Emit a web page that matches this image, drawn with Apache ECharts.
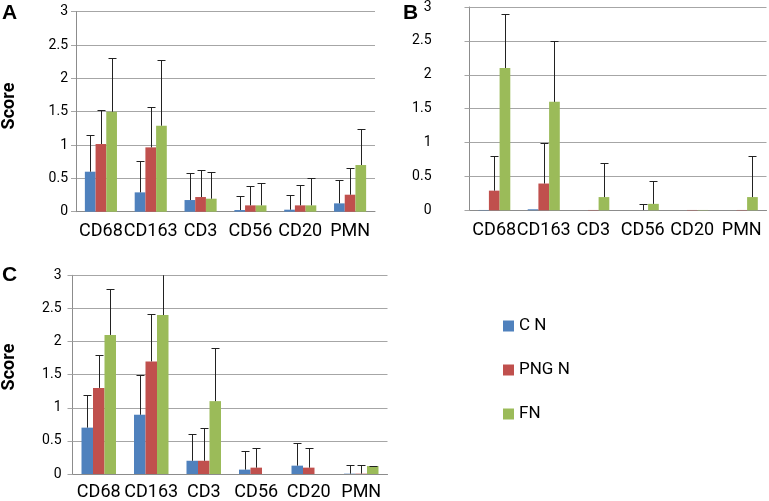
<!DOCTYPE html>
<html>
<head>
<meta charset="utf-8">
<script src="https://cdn.jsdelivr.net/npm/echarts@6/dist/echarts.min.js"></script>
<style>html,body{margin:0;padding:0;background:#fff}#c{width:769px;height:501px}</style>
</head>
<body>
<div id="c"></div>
<script>
const categories = ['CD68', 'CD163', 'CD3', 'CD56', 'CD20', 'PMN'];
const seriesNames = ['C N', 'PNG N', 'FN'];
const yMin = 0, yMax = 3, yStep = 0.5;

// Panel A
const aCN     = [0.60, 0.29, 0.175, 0.025, 0.03, 0.125];
const aCNErr  = [1.15, 0.76, 0.58, 0.23, 0.245, 0.47];
const aPNG    = [1.015, 0.965, 0.22, 0.095, 0.095, 0.255];
const aPNGErr = [1.52, 1.57, 0.62, 0.39, 0.40, 0.66];
const aFN     = [1.5, 1.29, 0.195, 0.095, 0.095, 0.70];
const aFNErr  = [2.3, 2.27, 0.60, 0.43, 0.50, 1.24];

// Panel B
const bCN     = [0.005, 0.015, 0, 0, 0, 0];
const bCNErr  = [null, null, null, null, null, null];
const bPNG    = [0.29, 0.395, 0.005, 0, 0.005, 0.005];
const bPNGErr = [0.80, 1.0, null, 0.1, null, null];
const bFN     = [2.10, 1.60, 0.195, 0.095, 0.005, 0.195];
const bFNErr  = [2.90, 2.50, 0.70, 0.43, null, 0.80];

// Panel C
const cCN     = [0.70, 0.895, 0.20, 0.066, 0.126, 0.005];
const cCNErr  = [1.20, 1.50, 0.60, 0.34, 0.47, 0.13];
const cPNG    = [1.30, 1.70, 0.20, 0.096, 0.096, 0.005];
const cPNGErr = [1.80, 2.41, 0.70, 0.39, 0.39, 0.13];
const cFN     = [2.10, 2.40, 1.10, 0, 0, 0.12];
const cFNErr  = [2.80, 3.05, 1.90, null, null, 0.12];

const colors = ['#4F81BD', '#C0504D', '#9BBB59'];
const FONT = "Roboto, 'Liberation Sans', sans-serif";

const panels = [
  { vals: [aCN, aPNG, aFN], errs: [aCNErr, aPNGErr, aFNErr], grid: { left: 76, top: 11.7, width: 299, height: 200 }, bw: 10.7, ylm: 8, xlm: 11 },
  { vals: [bCN, bPNG, bFN], errs: [bCNErr, bPNGErr, bFNErr], grid: { left: 469.5, top: 5.3, width: 297, height: 205 }, bw: 10.7, ylm: 38, xlm: 11 },
  { vals: [cCN, cPNG, cFN], errs: [cCNErr, cPNGErr, cFNErr], grid: { left: 72.5, top: 275.3, width: 315, height: 199 }, bw: 11.5, ylm: 11, xlm: 9 }
];

function errRender(offsetIdx, bw) {
  return function (params, api) {
    const e = api.value(2);
    if (e === null || e === undefined || isNaN(e)) return;
    const base = api.coord([api.value(0), api.value(1)]);
    const top = api.coord([api.value(0), e]);
    const x = Math.round(base[0] + offsetIdx * bw) + 0.5;
    const yt = Math.round(top[1]) + 0.5;
    const yb = base[1];
    const half = 4;
    return {
      type: 'group',
      children: [
        { type: 'line', shape: { x1: x, y1: yb, x2: x, y2: yt }, style: { stroke: '#222', lineWidth: 1 } },
        { type: 'line', shape: { x1: x - half, y1: yt, x2: x + half, y2: yt }, style: { stroke: '#222', lineWidth: 1 } }
      ]
    };
  };
}

const grids = [], xAxes = [], yAxes = [], series = [];
panels.forEach((p, gi) => {
  grids.push(Object.assign({ containLabel: false }, p.grid));
  xAxes.push({
    type: 'category', gridIndex: gi, data: categories,
    axisLine: { lineStyle: { color: '#8c8c8c', width: 1 } },
    axisTick: { show: false },
    axisLabel: { color: '#000', fontFamily: FONT, fontSize: 18, margin: p.xlm, interval: 0 }
  });
  yAxes.push({
    type: 'value', gridIndex: gi, min: yMin, max: yMax, interval: yStep,
    axisLine: { show: true, lineStyle: { color: '#8c8c8c', width: 1 } },
    axisTick: { show: true, length: 5, lineStyle: { color: '#a6a6a6' } },
    splitLine: { lineStyle: { color: '#a6a6a6', width: 1 } },
    axisLabel: { color: '#000', fontFamily: FONT, fontSize: 14, margin: p.ylm }
  });
  p.vals.forEach((arr, si) => {
    series.push({
      name: seriesNames[si], type: 'bar', xAxisIndex: gi, yAxisIndex: gi,
      data: arr, barWidth: p.bw, barGap: '0%',
      itemStyle: { color: colors[si] }, silent: true
    });
  });
  p.errs.forEach((arr, si) => {
    series.push({
      name: 'err' + gi + '_' + si, type: 'custom', xAxisIndex: gi, yAxisIndex: gi,
      clip: true, silent: true, z: 5,
      renderItem: errRender(si - 1, p.bw),
      data: arr.map((e, i) => [i, p.vals[si][i], e])
    });
  });
});

const chart = echarts.init(document.getElementById('c'), null, { renderer: 'canvas' });
chart.setOption({
  animation: false,
  color: colors,
  grid: grids, xAxis: xAxes, yAxis: yAxes, series: series,
  legend: {
    data: seriesNames, orient: 'vertical', left: 498, top: 311,
    itemWidth: 11, itemHeight: 11, itemGap: 24,
    icon: 'rect',
    textStyle: { fontFamily: FONT, fontSize: 17, color: '#000', lineHeight: 20 }
  },
  graphic: [
    { type: 'text', left: 2, top: 3, style: { text: 'A', font: "bold 21px 'Liberation Sans', Arial, sans-serif", fill: '#000' } },
    { type: 'text', left: 403, top: 3, style: { text: 'B', font: "bold 21px 'Liberation Sans', Arial, sans-serif", fill: '#000' } },
    { type: 'text', left: 2, top: 265, style: { text: 'C', font: "bold 21px 'Liberation Sans', Arial, sans-serif", fill: '#000' } },
    { type: 'text', x: 9, y: 106, rotation: Math.PI / 2, style: { text: 'Score', font: "bold 18px " + FONT, fill: '#000', align: 'center', verticalAlign: 'middle' } },
    { type: 'text', x: 9, y: 367, rotation: Math.PI / 2, style: { text: 'Score', font: "bold 18px " + FONT, fill: '#000', align: 'center', verticalAlign: 'middle' } }
  ]
});
</script>
</body>
</html>
